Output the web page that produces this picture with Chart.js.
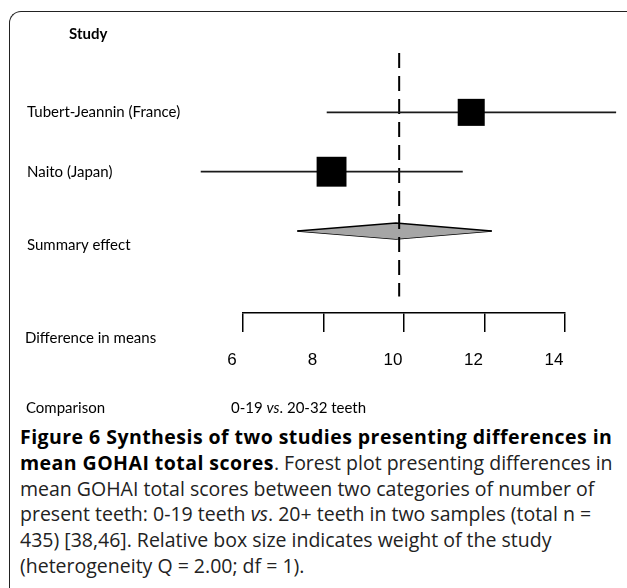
<!DOCTYPE html>
<html>
<head>
<meta charset="utf-8">
<title>Forest plot - GOHAI</title>
<script src="https://cdn.jsdelivr.net/npm/chart.js@4/dist/chart.umd.min.js"></script>
<style>
  body { margin: 0; width: 627px; height: 588px; overflow: hidden; background: #fff; position: relative; }
  .frame {
    position: absolute; left: 9px; top: 11px; width: 720px; height: 700px;
    border-left: 1px solid #222; border-top: 1px solid #222; border-top-left-radius: 12px;
  }
  #forest { position: absolute; left: 0; top: 0; }
  .lbl { position: absolute; font-family: Lato, sans-serif; font-size: 15px; color: #000; white-space: nowrap; transform: translateY(-50%); }
  .lbl.bold { font-weight: bold; font-size: 15px; }
  .caption {
    position: absolute; left: 20px; top: 424px; font-family: "Open Sans", sans-serif;
    font-size: 19.5px; line-height: 25.8px; color: #222; white-space: nowrap;
  }
  .caption b { color: #000; letter-spacing: 0.45px; }
</style>
</head>
<body>
<div class="frame"></div>
<canvas id="forest" width="627" height="420"></canvas>

<div class="lbl bold" style="left:69px; top:33px">Study</div>
<div class="lbl" style="left:25px; top:337px">Difference in means</div>
<div class="lbl" style="left:26px; top:407px">Comparison</div>
<div class="lbl" style="left:231px; top:407px">0-19 <i>vs</i>. 20-32 teeth</div>

<div class="caption">
  <b>Figure 6 Synthesis of two studies presenting differences in</b><br>
  <b>mean GOHAI total scores</b>. Forest plot presenting differences in<br>
  mean GOHAI total scores between two categories of number of<br>
  present teeth: 0-19 teeth <i>vs</i>. 20+ teeth in two samples (total n =<br>
  435) [38,46]. Relative box size indicates weight of the study<br>
  (heterogeneity Q = 2.00; df = 1).
</div>

<script>
// study estimates (difference in means, 95% CI)
const studies = ['Tubert-Jeannin (France)', 'Naito (Japan)'];
const means = [11.67, 8.20];
const lower = [8.08, 4.95];
const upper = [15.27, 11.46];
const weights = [0.45, 0.55];

// pooled estimate
const summaryLabel = 'Summary effect';
const summaryMean = 9.8;
const summaryLower = 7.35;
const summaryUpper = 12.18;
const refValue = 9.88;

const xTicks = [6, 8, 10, 12, 14];

const ROW_SUMMARY = studies.length + 1;
const DIAMOND_H = 0.135;

const datasets = [];

// weighted boxes, drawn on top
datasets.push({
  type: 'scatter',
  data: means.map((m, i) => ({ x: m, y: i + 1 })),
  pointStyle: 'rect',
  pointRadius: ctx => 40.3 * Math.sqrt(weights[ctx.dataIndex]) / (2 * Math.SQRT1_2),
  pointBackgroundColor: '#000',
  pointBorderWidth: 0,
  clip: false
});

// confidence intervals
studies.forEach((s, i) => {
  datasets.push({
    type: 'line',
    data: [{ x: lower[i], y: i + 1 }, { x: upper[i], y: i + 1 }],
    borderColor: '#1a1a1a',
    borderWidth: 1.8,
    pointRadius: 0,
    clip: false
  });
});

// dashed line through the pooled estimate
datasets.push({
  type: 'line',
  data: [{ x: refValue, y: 0 }, { x: refValue, y: 4.1 }],
  borderColor: '#000',
  borderWidth: 2,
  borderDash: [15, 8],
  pointRadius: 0,
  clip: false
});

// summary diamond: upper half filled down to lower half
datasets.push({
  type: 'line',
  data: [
    { x: summaryLower, y: ROW_SUMMARY },
    { x: summaryMean, y: ROW_SUMMARY - DIAMOND_H },
    { x: summaryUpper, y: ROW_SUMMARY }
  ],
  borderColor: '#000',
  borderWidth: 1.5,
  backgroundColor: '#a6a6a6',
  fill: '+1',
  pointRadius: 0,
  tension: 0,
  clip: false
});
datasets.push({
  type: 'line',
  data: [
    { x: summaryLower, y: ROW_SUMMARY },
    { x: summaryMean, y: ROW_SUMMARY + DIAMOND_H },
    { x: summaryUpper, y: ROW_SUMMARY }
  ],
  borderColor: '#000',
  borderWidth: 1.5,
  pointRadius: 0,
  tension: 0,
  clip: false
});

// study names on the left, lined up with their rows
const rowLabels = {
  id: 'rowLabels',
  afterDraw(chart) {
    const { ctx } = chart;
    const y = chart.scales.y;
    ctx.save();
    ctx.font = '15px Lato';
    ctx.fillStyle = '#000';
    ctx.textBaseline = 'middle';
    studies.forEach((s, i) => ctx.fillText(s, 27, y.getPixelForValue(i + 1)));
    ctx.fillText(summaryLabel, 27, y.getPixelForValue(ROW_SUMMARY) + 14);
    ctx.restore();
  }
};

new Chart(document.getElementById('forest'), {
  type: 'scatter',
  data: { datasets },
  options: {
    responsive: false,
    animation: false,
    layout: { padding: { left: 243, right: 62, top: 53, bottom: 47 } },
    plugins: { legend: { display: false }, tooltip: { enabled: false } },
    scales: {
      x: {
        type: 'linear',
        min: 6,
        max: 14,
        afterBuildTicks: s => { s.ticks = xTicks.map(v => ({ value: v })); },
        afterFit: s => { s.height = 60; },
        grid: { drawOnChartArea: false, tickLength: 19, color: '#000', lineWidth: 1.5 },
        border: { color: '#000', width: 1.5 },
        ticks: {
          color: '#000',
          font: { family: 'Liberation Sans', size: 17 },
          padding: 18,
          labelOffset: -11,
          maxRotation: 0
        }
      },
      y: { type: 'linear', display: false, reverse: true, min: 0, max: 4.38 }
    }
  },
  plugins: [rowLabels]
});
</script>
</body>
</html>
